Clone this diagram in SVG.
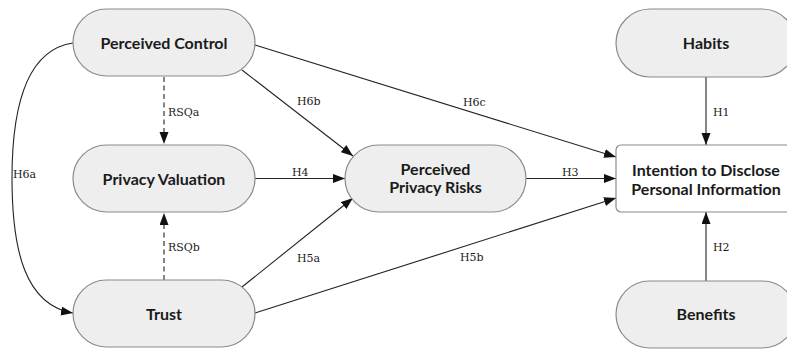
<svg xmlns="http://www.w3.org/2000/svg" width="787" height="349" viewBox="0 0 787 349">
<defs>
<marker id="arr" markerUnits="userSpaceOnUse" markerWidth="13" markerHeight="10" refX="12" refY="4.5" orient="auto">
<path d="M0,0 L12,4.5 L0,9 z" fill="#111"/>
</marker>
<style>
.node{fill:#eeeeee;stroke:#8a8a8a;stroke-width:1.2}
.box{fill:#ffffff;stroke:#8a8a8a;stroke-width:1.2}
.t{font-family:Lato,"Open Sans",sans-serif;font-weight:700;font-size:16px;fill:#1a1a1a;text-anchor:middle}
.c{fill:none;stroke:#222;stroke-width:1.1;marker-end:url(#arr)}
.d{stroke-dasharray:5,3.5}
.l{font-family:"DejaVu Serif","Liberation Serif",serif;font-size:11px;fill:#222}
</style>
</defs>
<rect width="787" height="349" fill="#ffffff"/>
<g id="connectors">
<path class="c d" d="M164,77 L164,144"/>
<path class="c d" d="M164,280 L164,213"/>
<path class="c" d="M255,178.5 L345,178.5"/>
<path class="c" d="M242,70 L353,156"/>
<path class="c" d="M255,45 L616,157"/>
<path class="c" d="M526,178.5 L616,178.5"/>
<path class="c" d="M242,287 L353,198"/>
<path class="c" d="M255,313 L616,198"/>
<path class="c" d="M73,43 C25,50 12,110 12,178 C12,250 25,305 73,313"/>
<path class="c" d="M706,77 L706,145"/>
<path class="c" d="M706,281 L706,212"/>
<text class="l" x="168" y="116">RSQa</text>
<text class="l" x="168" y="251">RSQb</text>
<text class="l" x="297" y="105">H6b</text>
<text class="l" x="463" y="106">H6c</text>
<text class="l" x="713" y="116">H1</text>
<text class="l" x="292" y="176">H4</text>
<text class="l" x="562" y="176">H3</text>
<text class="l" x="13" y="178">H6a</text>
<text class="l" x="297" y="262">H5a</text>
<text class="l" x="460" y="261">H5b</text>
<text class="l" x="713" y="251">H2</text>
</g>
<g id="perceived-control">
<rect class="node" x="73" y="9" width="182" height="67" rx="33.5"/>
<text class="t" x="164" y="48.5">Perceived Control</text>
</g>
<g id="privacy-valuation">
<rect class="node" x="73" y="145" width="182" height="67" rx="33.5"/>
<text class="t" x="164" y="184.5">Privacy Valuation</text>
</g>
<g id="trust">
<rect class="node" x="73" y="280" width="182" height="67" rx="33.5"/>
<text class="t" x="164" y="319.5">Trust</text>
</g>
<g id="perceived-privacy-risks">
<rect class="node" x="345" y="145" width="181" height="67" rx="33.5"/>
<text class="t" x="435.5" y="174.5">Perceived</text>
<text class="t" x="435.5" y="193">Privacy Risks</text>
</g>
<g id="habits">
<rect class="node" x="616" y="9" width="180" height="68" rx="34"/>
<text class="t" x="706" y="48.5">Habits</text>
</g>
<g id="intention">
<rect class="box" x="616" y="145" width="180" height="67" rx="5"/>
<text class="t" x="706" y="176">Intention to Disclose</text>
<text class="t" x="706" y="194.5">Personal Information</text>
</g>
<g id="benefits">
<rect class="node" x="616" y="281" width="180" height="67" rx="33.5"/>
<text class="t" x="706" y="320">Benefits</text>
</g>
</svg>
